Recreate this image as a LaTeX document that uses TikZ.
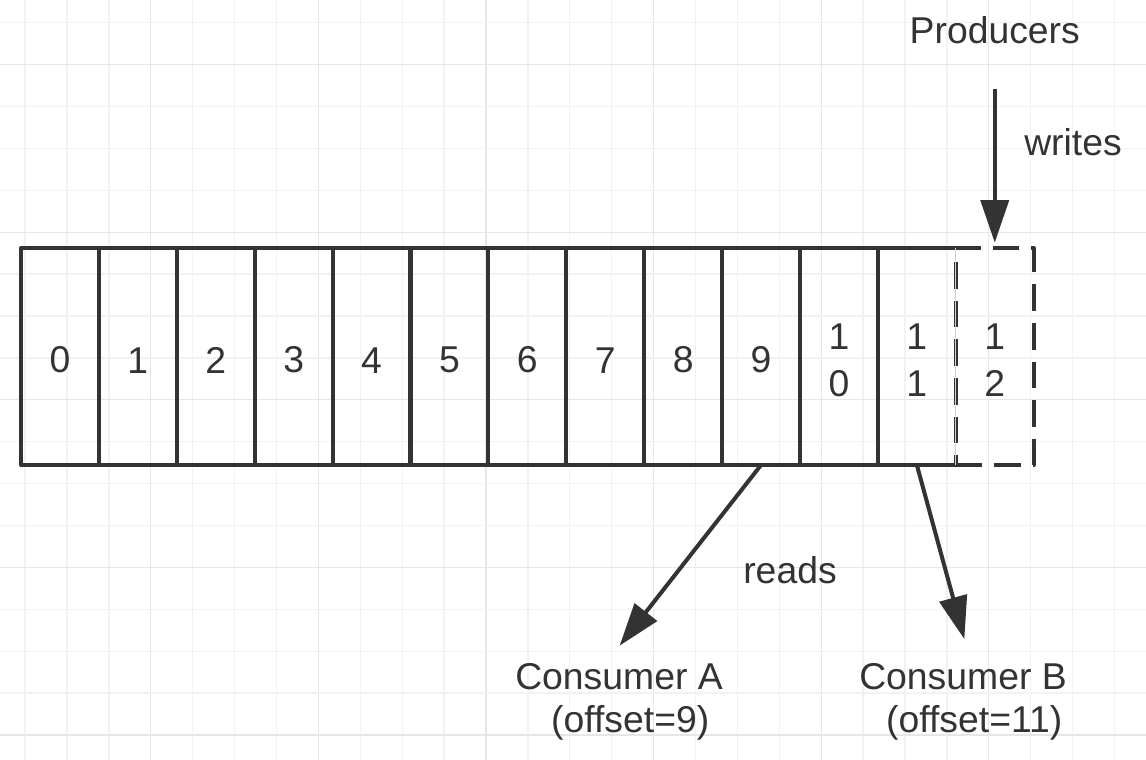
\documentclass[tikz,border=0pt]{standalone}
\usepackage{fontspec}
\setmainfont{Liberation Sans}
\usetikzlibrary{arrows.meta}

\definecolor{ink}{HTML}{333333}
\definecolor{gridminor}{HTML}{F2F2F2}
\definecolor{gridmajor}{HTML}{E6E6E6}

\tikzset{
  cell/.style={draw=ink, line width=3pt, line join=round, text=ink, outer sep=0pt,
    minimum width=58.4pt, minimum height=162.75pt, inner sep=0pt, align=center,
    font=\fontsize{28}{35}\selectfont},
  newcell/.style={cell, dash pattern=on 20pt off 9pt},
  edgeline/.style={draw=ink, line width=3pt},
  arrowline/.style={draw=ink, line width=3pt, -{Triangle[length=32pt, width=21pt]}},
  txt/.style={text=ink, inner sep=0pt},
}

\begin{document}
\begin{tikzpicture}[x=0.75pt, y=-0.75pt, font=\fontsize{28}{32}\selectfont]
		% ==================================================
		% 1. 参数设置
		% ==================================================
		\def\cellW{77.9}   % 每格宽度
		\def\leftX{21}     % 左边界
		\def\midY{356.5}   % 格子中线
		\def\lift{\rule{0pt}{25pt}} % 数字略往下
		% ==================================================

		\useasboundingbox (0,0) rectangle (1146,760);
		\fill[white] (0,0) rectangle (1146,760);

		% 2. 背景网格 (每 4 格一条深线)
		\foreach \k in {0,...,26} {
			\pgfmathsetmacro{\gx}{25.1+41.9*\k}
			\pgfmathtruncatemacro{\isMajor}{mod(\k,4)==3}
			\ifnum\isMajor=1 \def\gc{gridmajor}\else\def\gc{gridminor}\fi
			\draw[\gc, line width=1pt] (\gx,0) -- (\gx,760);
		}
		\foreach \k in {0,...,17} {
			\pgfmathsetmacro{\gy}{22.7+41.9*\k}
			\pgfmathtruncatemacro{\isMajor}{mod(\k,4)==1}
			\ifnum\isMajor=1 \def\gc{gridmajor}\else\def\gc{gridminor}\fi
			\draw[\gc, line width=1pt] (0,\gy) -- (1146,\gy);
		}

		% 3. 日志格子 0..10
		\foreach \i in {0,...,10} {
			\pgfmathsetmacro{\cx}{\leftX+\cellW*(\i+0.5)}
			\ifnum\i<10 \def\txt{\i}\else\def\txt{1\\0}\fi
			\node[cell] (c\i) at (\cx,\midY) {\lift\txt};
		}

		% 格子 11 (右边由虚线框画出)
		\node[cell, draw=none] (c11) at ({\leftX+\cellW*11.5},\midY) {\lift 1\\1};
		\draw[edgeline] (c11.north west) -- (c11.north east);
		\draw[edgeline] (c11.south west) -- (c11.south east);

		% 4. 新写入的格子 12 (虚线)
		\node[newcell] (c12) at ({\leftX+\cellW*12.5},\midY) {\lift 1\\2};
		\draw[gray!35, line width=0.5pt] (c12.north west) -- (c12.south west);

		% 5. 生产者
		\node[txt, anchor=base] (producers) at ({\leftX+\cellW*12.5},43) {Producers};
		\node[txt, anchor=base] (writes) at (1073,155) {writes};
		\draw[arrowline, shorten <=34pt, shorten >=4pt] (producers.south) -- (c12.north);

		% 6. 消费者
		\node[txt, align=center] (consumerA) at (619,702) {Consumer A\\\hspace*{0.6em}(offset=9)};
		\node[txt, align=center] (consumerB) at (963,702) {Consumer B\\\hspace*{0.6em}(offset=11)};
		\node[txt, anchor=base] (reads) at (790,583) {reads};

		\draw[arrowline, shorten >=17pt] (c9.south) -- ([xshift=-10pt]consumerA.north);
		\draw[arrowline, shorten >=19pt] (c11.south) -- ([xshift=6pt]consumerB.north);

	\end{tikzpicture}
\end{document}
